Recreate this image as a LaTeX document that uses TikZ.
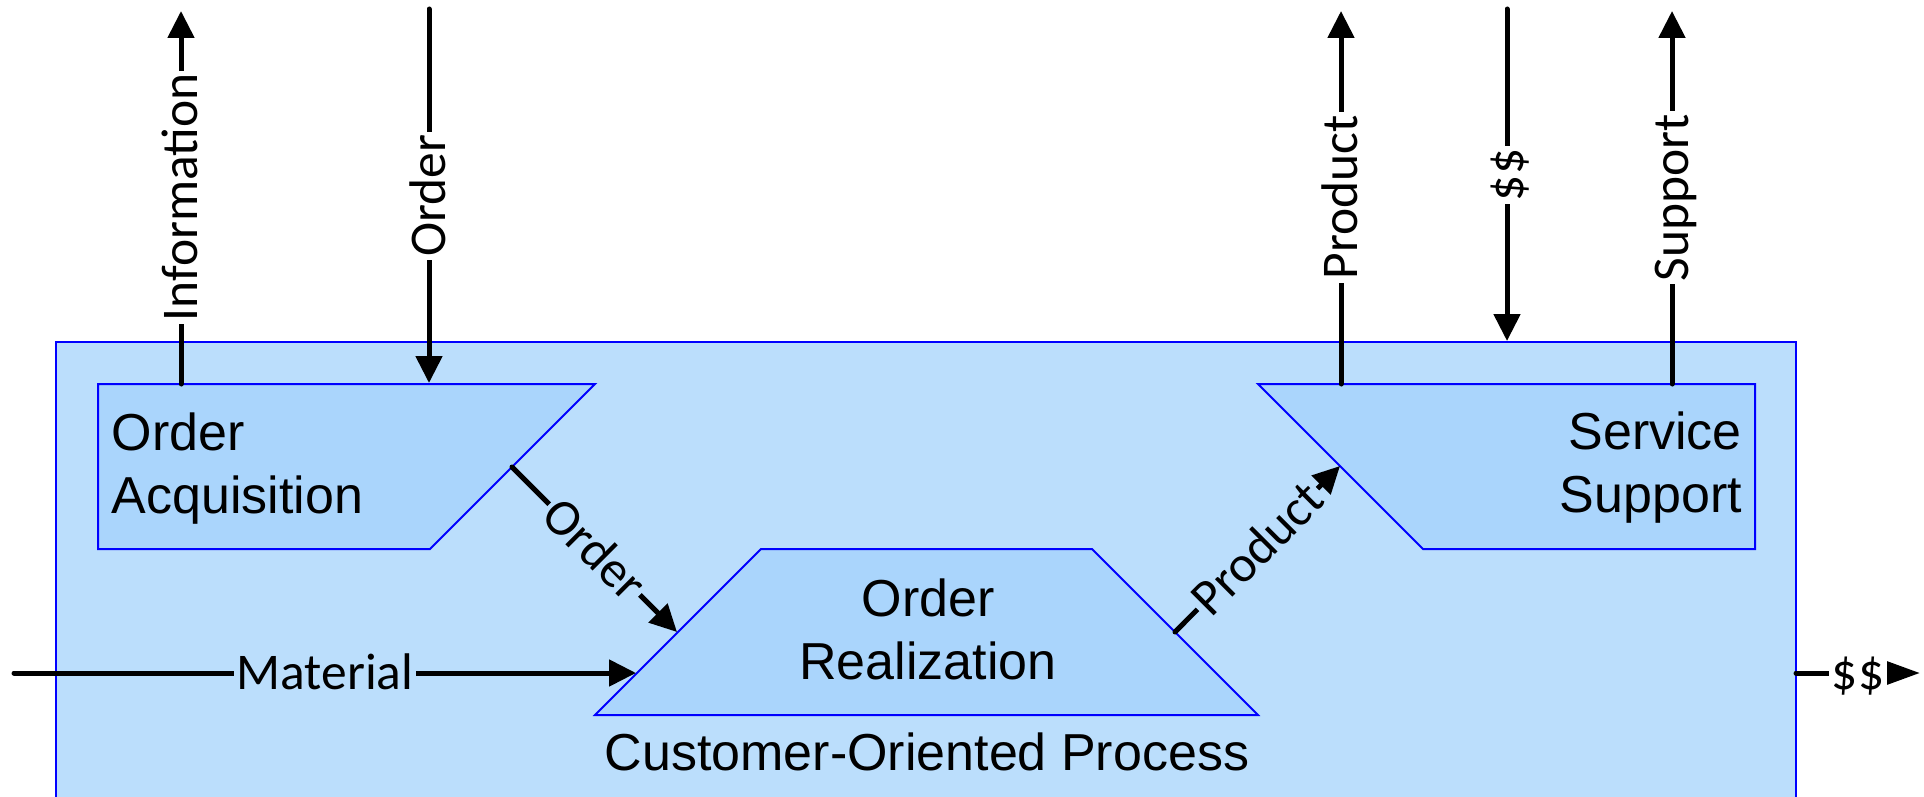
\documentclass[tikz,border=0pt]{standalone}
\usepackage{fontspec}
\usetikzlibrary{arrows.meta}
\newfontfamily\boxfont{Liberation Sans}
\newfontfamily\lblfont{Carlito}
\definecolor{outerfill}{RGB}{187,222,252}
\definecolor{innerfill}{RGB}{170,213,252}
\definecolor{edgeblue}{RGB}{0,0,255}
\begin{document}
\begin{tikzpicture}[x=1pt,y=-1pt,
  procbox/.style={fill=innerfill,draw=edgeblue,line width=2pt,line join=miter},
  boxtext/.style={font=\boxfont\fontsize{52}{62.5}\selectfont,inner sep=0pt},
  flow/.style={line width=5pt,line cap=round,-{Triangle[length=27pt,width=26pt]}},
  flowlbl/.style={font=\lblfont\fontsize{51.5}{60}\selectfont,inner xsep=3pt,inner ysep=1pt,text height=33pt,text depth=0pt},
]
\useasboundingbox (0,0) rectangle (1924,797);
% outer region
\fill[outerfill] (56,342) rectangle (1796,805);
\draw[edgeblue,line width=2pt] (56,805) -- (56,342) -- (1796,342) -- (1796,805);
% process boxes
\draw[procbox] (98,384) -- (595,384) -- (430,549) -- (98,549) -- cycle;
\draw[procbox] (1258,384) -- (1755,384) -- (1755,549) -- (1423,549) -- cycle;
\draw[procbox] (761,549) -- (1092,549) -- (1258,715) -- (595,715) -- cycle;
% texts
\node[boxtext,anchor=north west,align=left] (oa) at (111.5,413) {Order\\Acquisition};
\node[boxtext,anchor=north east,align=right] (ss) at (1742,412) {Service\\Support};
\node[boxtext,anchor=north,align=center] (orz) at (928,579) {Order\\Realization};
\node[boxtext,anchor=base] (cop) at (927,770) {Customer-Oriented Process};
% connection points
\coordinate (infoS) at (181,384);  \coordinate (infoE) at (181,11);
\coordinate (ordS)  at (429,9);    \coordinate (ordE)  at (429,383);
\coordinate (prodS) at (1341,384); \coordinate (prodE) at (1341,11);
\coordinate (moneyS) at (1507,9);  \coordinate (moneyE) at (1507,341);
\coordinate (suppS) at (1672,384); \coordinate (suppE) at (1672,11);
\coordinate (matS)  at (14,673);   \coordinate (matE)  at (636,673);
\coordinate (oaOut) at (512,467);  \coordinate (orIn)  at (677,632);
\coordinate (orOut) at (1175,632); \coordinate (ssIn)  at (1340,466);
\coordinate (payS)  at (1796,673); \coordinate (payE)  at (1920,673);
% connectors
\draw[flow] (infoS) -- node[flowlbl,fill=white,rotate=90] (infoL) {Information} (infoE);
\draw[flow] (ordS) -- node[flowlbl,fill=white,rotate=90] (ordL) {Order} (ordE);
\draw[flow] (prodS) -- node[flowlbl,fill=white,rotate=90] (prodL) {Product} (prodE);
\draw[flow] (moneyS) -- node[flowlbl,fill=white,rotate=90] (moneyL) {\$\$} (moneyE);
\draw[flow] (suppS) -- node[flowlbl,fill=white,rotate=90] (suppL) {Support} (suppE);
\draw[flow] (matS) -- node[flowlbl,fill=outerfill] (matL) {Material} (matE);
\draw[flow] (oaOut) -- node[flowlbl,fill=outerfill,rotate=-45] (ordDL) {Order} (orIn);
\draw[flow] (orOut) -- node[flowlbl,fill=outerfill,rotate=45] (prodDL) {Product} (ssIn);
\draw[line width=5pt,line cap=round,-{Triangle[length=34pt,width=23pt]}] (payS) -- node[flowlbl,fill=white] (payL) {\$\$} (payE);
\end{tikzpicture}
\end{document}
